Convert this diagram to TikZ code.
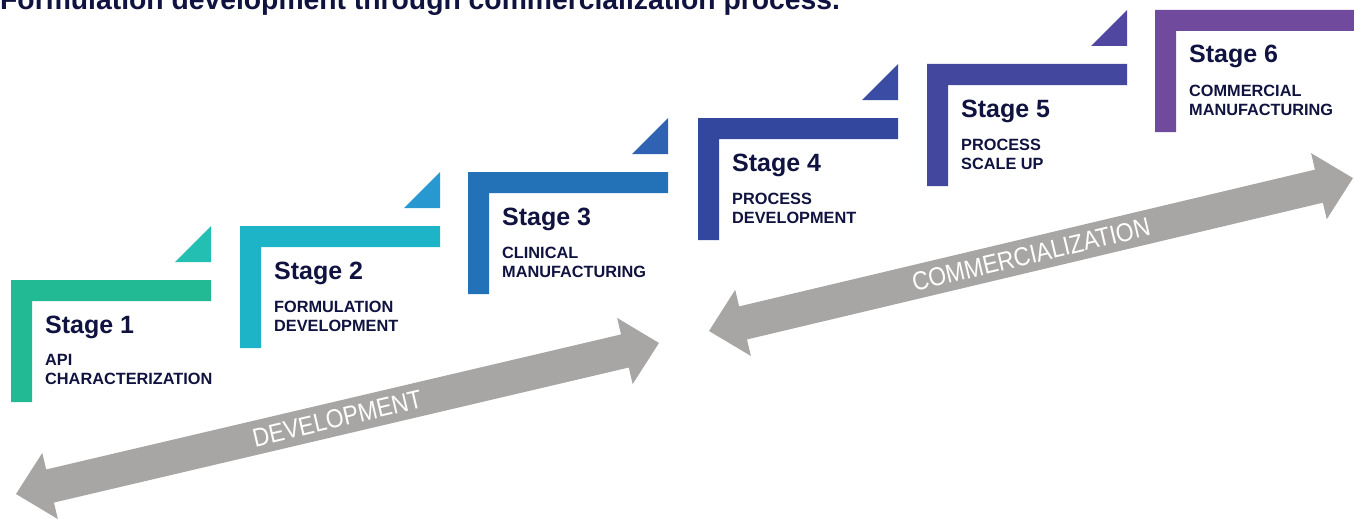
\documentclass[tikz,border=0pt]{standalone}
\usepackage{fontspec}
\setmainfont{Liberation Sans}
\newfontfamily\narrowfont[FakeStretch=0.88]{Liberation Sans}
\definecolor{sA}{HTML}{21BA94}
\definecolor{sB}{HTML}{1EB4C7}
\definecolor{sC}{HTML}{2372B8}
\definecolor{sD}{HTML}{34479E}
\definecolor{sE}{HTML}{43489E}
\definecolor{sF}{HTML}{6F4A9D}
\definecolor{tA}{HTML}{23BFB2}
\definecolor{tB}{HTML}{2899D0}
\definecolor{tC}{HTML}{2F62B2}
\definecolor{tD}{HTML}{3A4CA4}
\definecolor{tE}{HTML}{5048A0}
\definecolor{tF}{HTML}{6F4A9D}
\definecolor{navy}{HTML}{10123F}
\definecolor{arrowgray}{HTML}{A7A6A4}
\tikzset{
  titletext/.style={anchor=base west, inner sep=0pt, text=navy, font=\fontsize{28.3}{34}\selectfont\bfseries},
  stagetitle/.style={anchor=base west, inner sep=0pt, text=navy, font=\fontsize{25}{30}\selectfont\bfseries},
  stagesub/.style={anchor=north west, inner sep=0pt, text=navy, align=left, font=\fontsize{16.3}{19}\selectfont\bfseries},
  arrowtext/.style={inner sep=0pt, text=white, font=\narrowfont\fontsize{26}{30}\selectfont},
  bigarrow/.style={fill=arrowgray}
}
\begin{document}
\begin{tikzpicture}[x=1pt,y=-1pt]
\useasboundingbox (0,0) rectangle (1354,519);
\node[titletext] (title) at (0,10) {Formulation development through commercialization process.};

\foreach \x/\ty/\bc/\tc/\k/\la/\lb in {
  11/280/sA/tA/1/API/CHARACTERIZATION,
  240/226/sB/tB/2/FORMULATION/DEVELOPMENT,
  468/172/sC/tC/3/CLINICAL/MANUFACTURING,
  698/118/sD/tD/4/PROCESS/DEVELOPMENT,
  927/64/sE/tE/5/PROCESS/SCALE UP,
  1155/10/sF/tF/6/COMMERCIAL/MANUFACTURING}{
  \fill[\bc] (\x,\ty) -- ++(200,0) -- ++(0,21) -- ++(-179,0) -- ++(0,101) -- ++(-21,0) -- cycle;
  \fill[\tc] (\x+200,\ty-54) -- (\x+200,\ty-18) -- (\x+164,\ty-18) -- cycle;
  \node[stagetitle] (stage\k) at (\x+34,\ty+53) {Stage \k};
  \node[stagesub] (sub\k) at (\x+34,\ty+74.5) {\la\\\lb};
}

\begin{scope}[shift={(16,494)}, rotate=13.22]
  \fill[bigarrow] (0,0) -- (35,-34) -- (35,-17) -- (625.5,-17) -- (625.5,-34) -- (660.5,0)
    -- (625.5,34) -- (625.5,17) -- (35,17) -- (35,34) -- cycle;
  \node[arrowtext, rotate=13.22] (dev) at (330,0) {DEVELOPMENT};
\end{scope}

\begin{scope}[shift={(709,331)}, rotate=13.36]
  \fill[bigarrow] (0,0) -- (35,-34) -- (35,-17) -- (626.9,-17) -- (626.9,-34) -- (661.9,0)
    -- (626.9,34) -- (626.9,17) -- (35,17) -- (35,34) -- cycle;
  \node[arrowtext, rotate=13.36] (com) at (331,0) {COMMERCIALIZATION};
\end{scope}
\end{tikzpicture}
\end{document}
